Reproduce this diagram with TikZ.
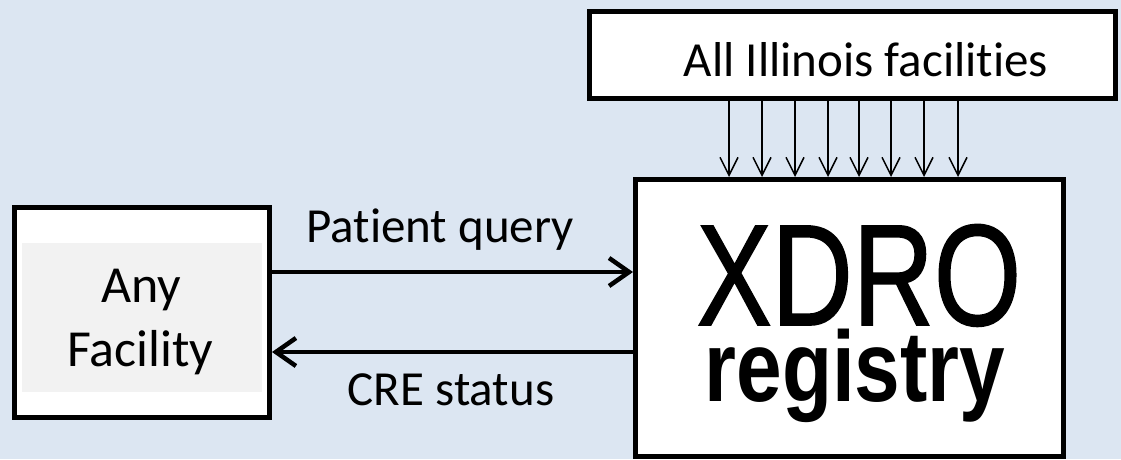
\documentclass[tikz,border=0pt]{standalone}
\usepackage{fontspec}
\usepackage{graphicx}
\setmainfont{Carlito}[Ligatures=NoCommon, RawFeature={-liga;-clig;-dlig;-calt}]
\newfontfamily\arialfont{Liberation Sans}
\newfontfamily\xdrofont{Liberation Sans}[FakeBold=1.2]
\usetikzlibrary{arrows.meta}
\definecolor{bgblue}{HTML}{DCE6F2}
\definecolor{innergray}{HTML}{F2F2F2}
\tikzset{
  boxstyle/.style={draw=black, fill=white, line width=5pt, inner sep=0pt, rectangle},
  bigarrow/.style={line width=4.5pt, -{Straight Barb[length=20pt,width=28pt]}},
  smallarrow/.style={line width=1.5pt, -{Straight Barb[length=18pt,width=18pt]}},
  lbl/.style={font=\fontsize{49}{58}\selectfont, anchor=base, inner sep=0pt},
}
\begin{document}
\begin{tikzpicture}[x=1pt,y=-1pt]
\fill[bgblue] (0,0) rectangle (1121,459);
\useasboundingbox (0,0) rectangle (1121,459);
% boxes
\node[boxstyle, minimum width=255pt, minimum height=210pt] (left) at (142,312.5) {};
\node[fill=innergray, inner sep=0pt, minimum width=240pt, minimum height=149pt] (inner) at (142,317.5) {};
\node[boxstyle, minimum width=526pt, minimum height=87pt] (top) at (852.5,55) {};
\node[boxstyle, minimum width=428pt, minimum height=277pt] (xdro) at (849.5,318) {};
% texts
\node[lbl, font=\fontsize{52}{60}\selectfont] (any) at (141,302) {Any};
\node[lbl, font=\fontsize{52}{60}\selectfont] (facility) at (140.5,366) {Facility};
\node[lbl] (alltxt) at (866,76) {All Illinois facili\kern0pt ties};
\node[lbl] (pq) at (440,242) {Pat\kern0pt ient query};
\node[lbl] (cre) at (451,405) {CRE status};
\node[anchor=base, inner sep=0pt] (xd) at (859,325) {\scalebox{0.78}[1]{\xdrofont\fontsize{144}{150}\selectfont XDRO}};
\node[anchor=base, inner sep=0pt] (reg) at (855,401) {\scalebox{0.82}[1]{\arialfont\bfseries\fontsize{100}{110}\selectfont registry}};
% connectors
\draw[bigarrow] (left.east |- 0,272) -- (xdro.west |- 0,272);
\draw[bigarrow] (xdro.west |- 0,352) -- (left.east |- 0,352);
\foreach \xx in {729,762,795,828,859,891,924,958}{
  \draw[smallarrow] (top.south -| \xx,0) -- (xdro.north -| \xx,0);
}
\end{tikzpicture}
\end{document}
